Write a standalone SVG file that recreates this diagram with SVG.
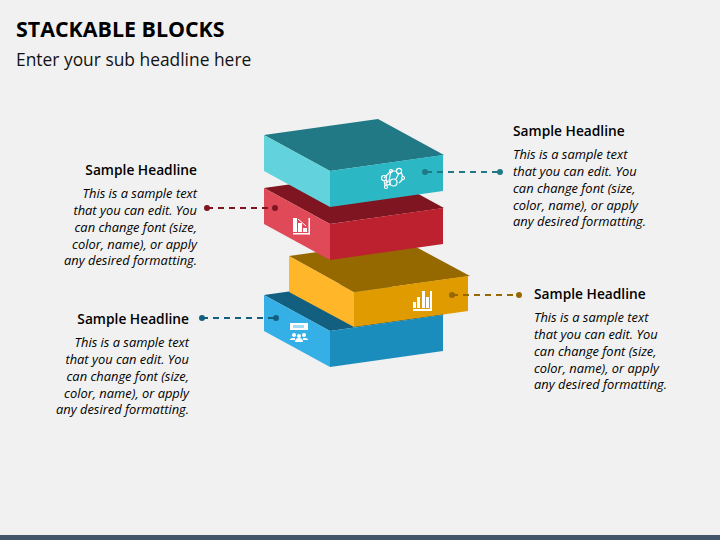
<svg xmlns="http://www.w3.org/2000/svg" width="720" height="540" viewBox="0 0 720 540">
<style>
text{font-family:"Open Sans","Noto Sans","Liberation Sans",sans-serif;fill:#000}
.title{font-size:21.400px;font-weight:700}
.sub{font-size:17.400px;fill:#111}
.h{font-size:13.750px;font-weight:600}
.b{font-size:12.900px;font-style:italic}
.e{text-anchor:end}
.c{fill:none;stroke-width:2;stroke-dasharray:6 5}
.w{fill:#fff}
.wl{fill:none;stroke:#fff}
</style>
<rect width="720" height="540" fill="#f1f1f1"/>
<rect y="535" width="720" height="5" fill="#44546a"/>
<text class="title" x="16" y="37">STACKABLE BLOCKS</text>
<text class="sub" x="16" y="66">Enter your sub headline here</text>

<g id="block-blue">
<polygon points="264,295 378,279 444,315 330,331" fill="#135f80"/>
<polygon points="264,295 330,331 330,367 264,331" fill="#35b0e6"/>
<polygon points="330,331 443,315 443,351 330,367" fill="#1b8dbd"/>
<g id="icon-blue">
<rect x="290" y="323" width="18" height="7" class="w"/>
<rect x="293" y="325" width="11" height="3" fill="#a5dcf5"/>
<circle cx="294" cy="335" r="2" class="w"/><circle cx="304" cy="335" r="2" class="w"/><circle cx="299" cy="336" r="2" class="w"/>
<path d="M290 340q0-2 3-2h2v2zM303 338h2q3 0 3 2h-5zM295 342q0-4 4-4t4 4z" class="w"/>
</g>
</g>

<g id="block-yellow">
<polygon points="289,256 403,240 470,276 354,292" fill="#956800"/>
<polygon points="289,256 354,292 354,327 289,292" fill="#ffb629"/>
<polygon points="354,292 468,276 468,311 354,327" fill="#e09b00"/>
<g id="icon-yellow" class="w">
<rect x="413" y="309" width="19" height="2"/><rect x="430" y="291" width="2" height="20"/>
<rect x="413" y="302" width="3" height="6"/><rect x="417" y="297" width="3" height="11"/><rect x="422" y="291" width="3" height="17"/><rect x="426" y="297" width="3" height="11"/>
</g>
</g>

<g id="block-red">
<polygon points="264,188 378,172 444,208 330,224" fill="#7f1520"/>
<polygon points="264,188 330,224 330,260 264,224" fill="#e04a58"/>
<polygon points="330,224 443,208 443,244 330,260" fill="#bd2130"/>
<g id="icon-red">
<rect x="293" y="233" width="17" height="1.500" class="w"/><rect x="308.500" y="218" width="1.500" height="16.500" class="w"/>
<rect x="293" y="218" width="4" height="14" class="w"/><rect x="298" y="223" width="4" height="9" class="w"/><rect x="303" y="228" width="4" height="4" class="w"/>
<path d="M298 219l8 7" class="wl"/>
</g>
</g>

<g id="block-teal">
<polygon points="264,135 378,119 444,155 330,171" fill="#207985"/>
<polygon points="264,135 330,171 330,207 264,171" fill="#62d3dc"/>
<polygon points="330,171 443,155 443,191 330,207" fill="#2cb7c5"/>
<g id="icon-teal" class="wl" stroke-width="1.200">
<path d="M384 178l7-7 6 0M401 172l2 5M386 180l2 3M391 171l-2 10M399 173l-3 6M403 179l-4 4M384 180l1 6"/>
<circle cx="384" cy="178" r="2.500"/><circle cx="391" cy="171" r="1.500"/><circle cx="399" cy="171" r="2.600"/><circle cx="393.500" cy="182.500" r="3.500"/><circle cx="403" cy="178" r="1.500"/><circle cx="386" cy="187" r="1.500"/><circle cx="388" cy="183" r="2"/>
</g>
</g>

<g id="connectors">
<path class="c" d="M426 172H500" stroke="#207985"/>
<circle cx="425" cy="172" r="3" fill="#207985"/><circle cx="500" cy="172" r="3" fill="#207985"/>
<path class="c" d="M207 208H275" stroke="#7f1520"/>
<circle cx="207" cy="208" r="3" fill="#7f1520"/><circle cx="275" cy="208" r="3" fill="#7f1520"/>
<path class="c" d="M452 295H519" stroke="#956800"/>
<circle cx="452" cy="295" r="3" fill="#956800"/><circle cx="519" cy="295" r="3" fill="#956800"/>
<path class="c" d="M202 318H276" stroke="#135f80"/>
<circle cx="202" cy="318" r="3" fill="#135f80"/><circle cx="276" cy="318" r="3" fill="#135f80"/>
</g>

<g id="text-teal">
<text class="h" x="513" y="136">Sample Headline</text>
<text class="b" x="513" y="159">This is a sample text</text>
<text class="b" x="513" y="176">that you can edit. You</text>
<text class="b" x="513" y="193">can change font (size,</text>
<text class="b" x="513" y="210">color, name), or apply</text>
<text class="b" x="513" y="226">any desired formatting.</text>
</g>
<g id="text-red">
<text class="h e" x="197" y="175">Sample Headline</text>
<text class="b e" x="197" y="198">This is a sample text</text>
<text class="b e" x="197" y="215">that you can edit. You</text>
<text class="b e" x="197" y="232">can change font (size,</text>
<text class="b e" x="197" y="249">color, name), or apply</text>
<text class="b e" x="197" y="265">any desired formatting.</text>
</g>
<g id="text-yellow">
<text class="h" x="534" y="299">Sample Headline</text>
<text class="b" x="534" y="322">This is a sample text</text>
<text class="b" x="534" y="339">that you can edit. You</text>
<text class="b" x="534" y="356">can change font (size,</text>
<text class="b" x="534" y="373">color, name), or apply</text>
<text class="b" x="534" y="389">any desired formatting.</text>
</g>
<g id="text-blue">
<text class="h e" x="189" y="324">Sample Headline</text>
<text class="b e" x="189" y="347">This is a sample text</text>
<text class="b e" x="189" y="364">that you can edit. You</text>
<text class="b e" x="189" y="381">can change font (size,</text>
<text class="b e" x="189" y="398">color, name), or apply</text>
<text class="b e" x="189" y="414">any desired formatting.</text>
</g>
</svg>
